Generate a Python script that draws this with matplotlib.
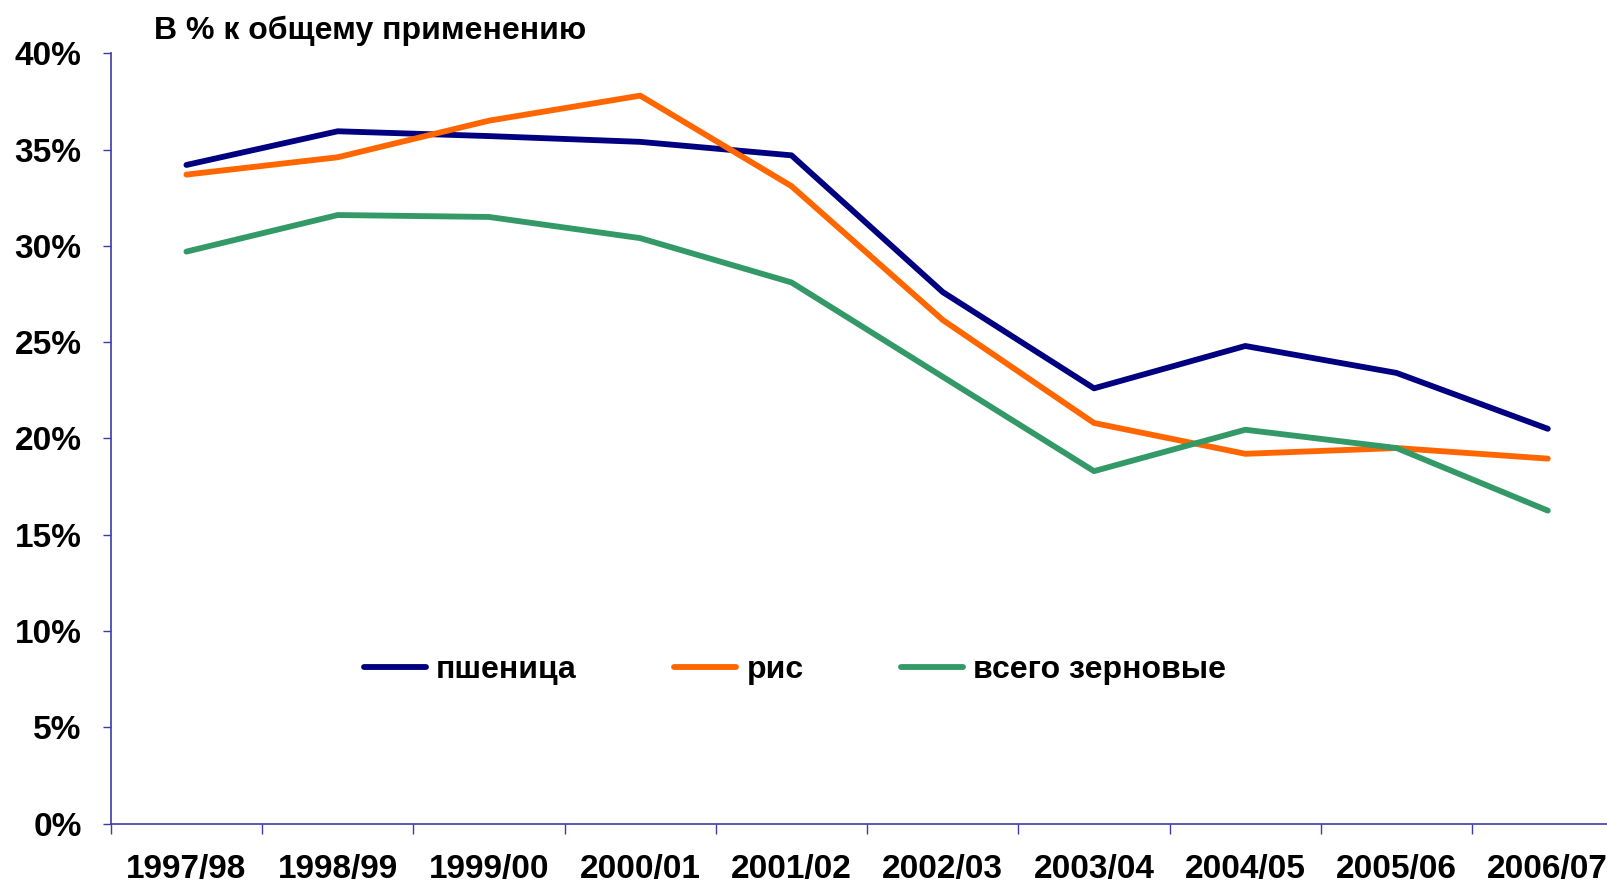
import numpy as np
import matplotlib
matplotlib.use("Agg")
import matplotlib.pyplot as plt

plt.rcParams['font.family'] = ['Liberation Sans', 'DejaVu Sans']
plt.rcParams['font.weight'] = 'bold'

seasons = ["1997/98", "1998/99", "1999/00", "2000/01", "2001/02",
           "2002/03", "2003/04", "2004/05", "2005/06", "2006/07"]
wheat = [34.2, 35.95, 35.7, 35.4, 34.7, 27.6, 22.6, 24.8, 23.4, 20.5]
rice = [33.7, 34.6, 36.5, 37.8, 33.1, 26.15, 20.8, 19.2, 19.5, 18.95]
grains = [29.7, 31.6, 31.5, 30.4, 28.1, 23.2, 18.3, 20.45, 19.5, 16.25]

names = ["пшеница", "рис", "всего зерновые"]
colors = ["#000080", "#FF6600", "#339966"]
axis_color = "#3c3ca8"

fig = plt.figure(figsize=(16.08, 8.88), dpi=100)
ax = fig.add_axes([0.0689, 0.0726, 0.9407, 0.8674])

x = np.arange(len(seasons))
for vals, name, col in zip([wheat, rice, grains], names, colors):
    ax.plot(x, vals, color=col, lw=4.2, label=name, solid_capstyle='round')

ax.set_xlim(-0.5, len(seasons) - 0.5)
ax.set_ylim(0, 40)
ax.set_yticks(np.arange(0, 41, 5))
ax.set_yticklabels([f"{v}%" for v in range(0, 41, 5)])

# ticks between categories, labels centred on categories
ax.set_xticks(np.arange(len(seasons) + 1) - 0.5)
ax.set_xticklabels([])
ax.set_xticks(x, minor=True)
ax.set_xticklabels(seasons, minor=True)
ax.tick_params(axis='x', which='minor', length=0, pad=22, labelsize=24)
ax.tick_params(axis='x', which='major', length=7, color=axis_color, width=1)
ax.tick_params(axis='y', length=6, color=axis_color, width=1, pad=15, labelsize=24)

for side in ['top', 'right']:
    ax.spines[side].set_visible(False)
for side in ['left', 'bottom']:
    ax.spines[side].set_color(axis_color)
    ax.spines[side].set_linewidth(1.2)

fig.text(0.0958, 0.965, "В % к общему применению", fontsize=23,
         fontweight='bold', va='center', ha='left')

leg = fig.legend(loc='center left', bbox_to_anchor=(0.2264, 0.2455), ncol=3,
                 frameon=False, fontsize=23, handlelength=1.94, handletextpad=0.32,
                 columnspacing=3.05, borderpad=0, borderaxespad=0)

fig.savefig("out.png", dpi=100)
